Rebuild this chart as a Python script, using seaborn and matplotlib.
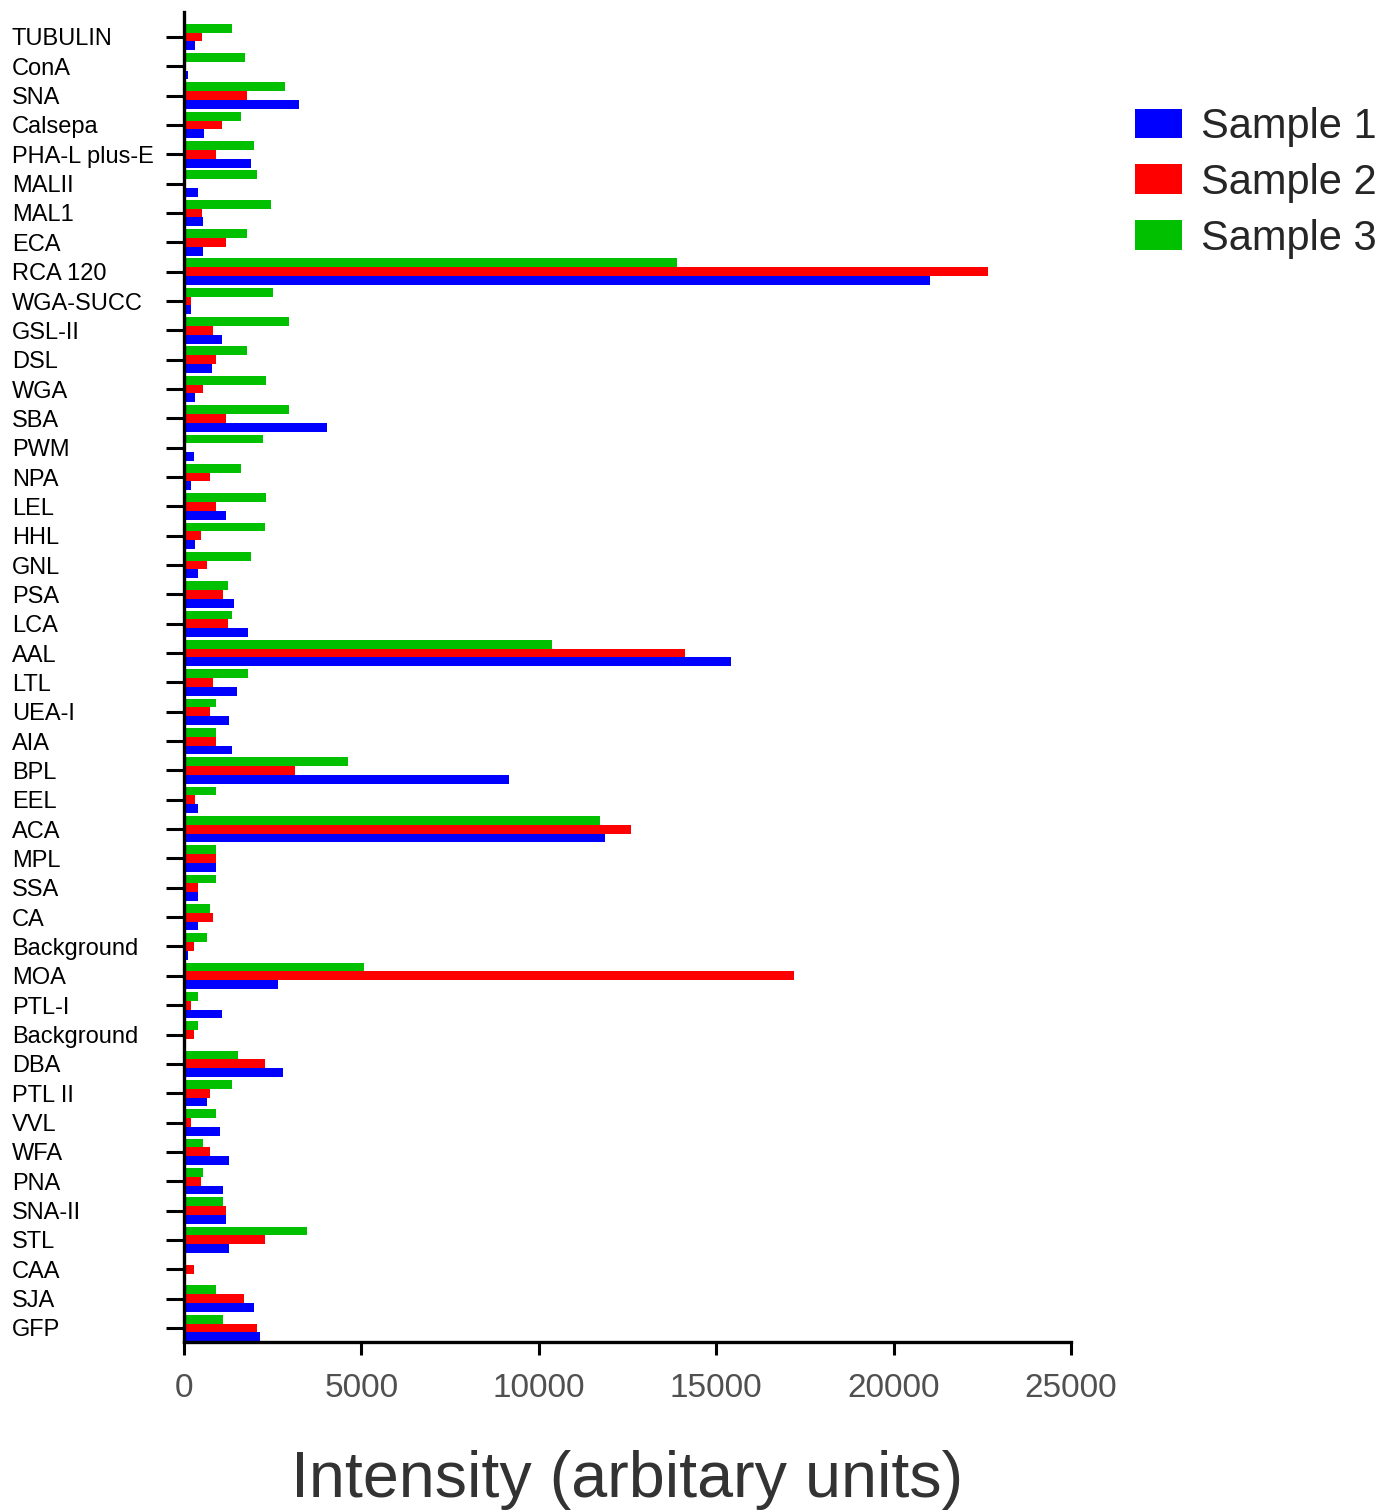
"""Lectin array intensities for three samples, horizontal grouped bars."""
import matplotlib
matplotlib.use("Agg")
import matplotlib.pyplot as plt
import pandas as pd
import seaborn as sns

LECTINS = [
    "TUBULIN", "ConA", "SNA", "Calsepa", "PHA-L plus-E", "MALII", "MAL1", "ECA",
    "RCA 120", "WGA-SUCC", "GSL-II", "DSL", "WGA", "SBA", "PWM", "NPA", "LEL",
    "HHL", "GNL", "PSA", "LCA", "AAL", "LTL", "UEA-I", "AIA", "BPL", "EEL", "ACA",
    "MPL", "SSA", "CA", "Background", "MOA", "PTL-I", "Background", "DBA",
    "PTL II", "VVL", "WFA", "PNA", "SNA-II", "STL", "CAA", "SJA", "GFP",
]

SAMPLE1 = [
    310, 100, 3230, 570, 1900, 400, 540, 540,
    21020, 200, 1080, 790, 310, 4020, 280, 200, 1190,
    310, 400, 1420, 1810, 15410, 1500, 1270, 1360, 9150, 400, 11870,
    910, 400, 400, 110, 2660, 1080, 50, 2780,
    650, 1020, 1270, 1100, 1190, 1270, 0, 1980, 2150,
]
SAMPLE2 = [
    510, 0, 1780, 1080, 910, 0, 510, 1190,
    22660, 200, 820, 910, 540, 1190, 0, 740, 910,
    480, 650, 1100, 1250, 14110, 820, 740, 910, 3120, 310, 12610,
    910, 400, 820, 280, 17200, 200, 280, 2290,
    740, 200, 740, 480, 1190, 2290, 280, 1700, 2070,
]
SAMPLE3 = [
    1360, 1730, 2860, 1610, 1960, 2060, 2440, 1780,
    13900, 2520, 2950, 1780, 2320, 2950, 2240, 1610, 2320,
    2290, 1900, 1250, 1360, 10370, 1810, 910, 910, 4620, 910, 11730,
    910, 910, 740, 650, 5070, 400, 400, 1530,
    1360, 910, 540, 540, 1100, 3480, 0, 910, 1100,
]

SAMPLES = ["Sample 1", "Sample 2", "Sample 3"]
COLORS = {"Sample 1": "#0000ff", "Sample 2": "#ff0000", "Sample 3": "#00c000"}


def build_frame():
    # "Background" appears twice, so bars are keyed by row position
    keys = [f"{i:02d}" for i in range(len(LECTINS))]
    rows = []
    for name, vals in zip(SAMPLES, [SAMPLE1, SAMPLE2, SAMPLE3]):
        for k, v in zip(keys, vals):
            rows.append({"key": k, "sample": name, "intensity": v})
    return pd.DataFrame(rows), keys


def main():
    sns.set_style("white")
    plt.rcParams["font.family"] = ["Liberation Sans", "DejaVu Sans"]

    df, keys = build_frame()
    fig = plt.figure(figsize=(13.85, 15.11), dpi=100)
    ax = fig.add_axes([184 / 1385, 169 / 1511, 887 / 1385, 1330 / 1511])

    sns.barplot(data=df, x="intensity", y="key", hue="sample", order=keys,
                hue_order=["Sample 3", "Sample 2", "Sample 1"], palette=COLORS,
                orient="h", width=0.9, saturation=1, errorbar=None, ax=ax,
                linewidth=0)

    ax.set_xlim(0, 25000)
    ax.set_ylim(44.48, -0.85)
    ax.set_xticks([0, 5000, 10000, 15000, 20000, 25000])
    ax.set_yticks(range(len(LECTINS)))
    ax.set_yticklabels(LECTINS)
    for lab in ax.get_yticklabels():
        lab.set_ha("left")

    sns.despine(ax=ax)
    for side in ["left", "bottom"]:
        ax.spines[side].set_linewidth(2.4)
        ax.spines[side].set_color("black")
    ax.tick_params(axis="y", length=13, width=2.2, color="black", pad=111,
                   labelsize=17, labelcolor="black", left=True)
    ax.tick_params(axis="x", length=9, width=2.2, color="black", pad=13,
                   labelsize=24, labelcolor="#505050", bottom=True)

    ax.set_ylabel("")
    ax.set_xlabel("Intensity (arbitary units)", fontsize=46.5, color="#333333")
    ax.xaxis.label.set_va("center")
    ax.xaxis.set_label_coords(0.5, -0.1035)

    handles, labels = ax.get_legend_handles_labels()
    order = [labels.index(s) for s in SAMPLES]
    ax.legend([handles[i] for i in order], SAMPLES, loc="upper left",
              bbox_to_anchor=(1135 / 1385, 1 - 107 / 1511),
              bbox_transform=fig.transFigure, frameon=False, fontsize=30,
              handlelength=1.13, handleheight=0.72, handletextpad=0.45,
              labelspacing=0.38, borderaxespad=0, borderpad=0)

    fig.savefig("out.png", dpi=100)
    plt.close(fig)


if __name__ == "__main__":
    main()
